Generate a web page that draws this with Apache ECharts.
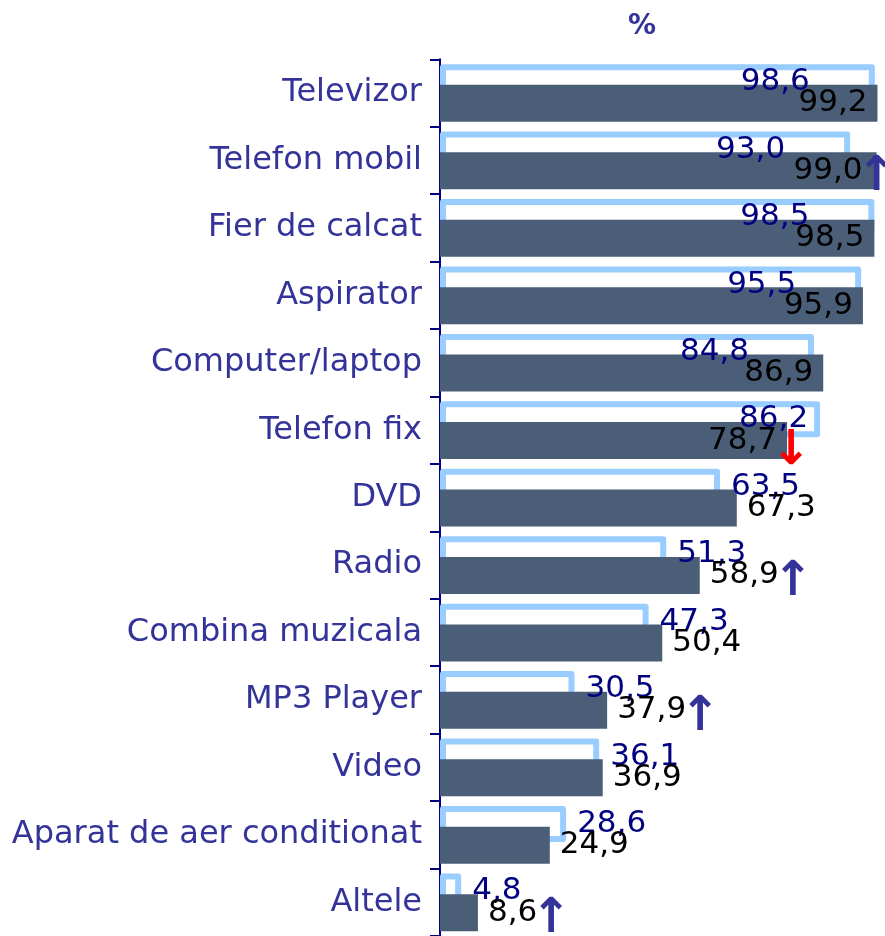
<!DOCTYPE html>
<html>
<head>
<meta charset="utf-8">
<script src="https://cdn.jsdelivr.net/npm/echarts@6/dist/echarts.min.js"></script>
<style>
  html, body { margin: 0; padding: 0; background: #fff; }
  #chart { width: 885px; height: 936px; }
</style>
</head>
<body>
<div id="chart"></div>
<script>
// categorii, de sus in jos
const categories = ['Televizor', 'Telefon mobil', 'Fier de calcat', 'Aspirator', 'Computer/laptop',
  'Telefon fix', 'DVD', 'Radio', 'Combina muzicala', 'MP3 Player', 'Video',
  'Aparat de aer conditionat', 'Altele']
// anul anterior (bara conturata)
const prevValues = [98.6, 93.0, 98.5, 95.5, 84.8, 86.2, 63.5, 51.3, 47.3, 30.5, 36.1, 28.6, 4.8]
// anul curent (bara plina)
const curValues = [99.2, 99.0, 98.5, 95.9, 86.9, 78.7, 67.3, 58.9, 50.4, 37.9, 36.9, 24.9, 8.6]
// sageti de tendinta
const trends = ['', 'up', '', '', '', 'down', '', 'up', '', 'up', '', '', 'up']

const FONT = 'DejaVu Sans'
const fmt = v => v.toFixed(1).replace('.', ',')

const chart = echarts.init(document.getElementById('chart'))

// etichete bara veche: la dreapta, sau in interior cand nu incap
const prevData = prevValues.map((v, i) => {
  const item = { value: v }
  if (v >= 80) {
    item.label = {
      position: 'insideRight',
      distance: v > curValues[i] + 3 ? 12 : 65
    }
  }
  return item
})

const curData = curValues.map((v, i) => {
  let label
  if (v >= 75) {
    // sageata iese peste capatul barei
    let d = 10
    if (trends[i] === 'up') d = -14
    if (trends[i] === 'down') d = -18
    label = { position: 'insideRight', distance: d }
  } else {
    label = { position: 'right', distance: 10 }
  }
  return { value: v, label }
})

const arrowStyle = {
  fontFamily: FONT,
  fontSize: 48,
  fontWeight: 'bold',
  width: 28,
  align: 'center'
}

const option = {
  animation: false,
  title: {
    text: '%',
    left: 623,
    top: 8,
    textStyle: { fontFamily: FONT, fontSize: 28, fontWeight: 'bold', color: '#333399' }
  },
  grid: { left: 440, right: 4, top: 59.3, bottom: -2 },
  xAxis: {
    type: 'value',
    min: 0,
    max: 100,
    show: false
  },
  yAxis: {
    type: 'category',
    data: categories,
    inverse: true,
    axisLine: { lineStyle: { color: '#000080', width: 2 } },
    axisTick: { show: true, inside: false, length: 10, lineStyle: { color: '#000080', width: 2 } },
    axisLabel: { margin: 18, fontFamily: FONT, fontSize: 32, color: '#333399' },
    splitLine: { show: false }
  },
  series: [
    {
      name: 'prev',
      type: 'bar',
      data: prevData,
      barWidth: 36,
      barGap: '-42.5%',
      itemStyle: { color: '#ffffff', borderColor: '#99ccff', borderWidth: 6, borderJoin: 'round' },
      label: {
        show: true,
        position: 'right',
        distance: 11,
        fontFamily: FONT,
        fontSize: 31,
        color: '#000080',
        formatter: p => fmt(p.value)
      }
    },
    {
      name: 'cur',
      type: 'bar',
      data: curData,
      barWidth: 37,
      barGap: '-42.5%',
      itemStyle: { color: '#4a5e78' },
      label: {
        show: true,
        fontFamily: FONT,
        fontSize: 31,
        color: '#000000',
        formatter: p => {
          const t = trends[p.dataIndex]
          let s = '{v|' + fmt(p.value) + '}'
          if (t === 'up') s += '{up|↑}'
          if (t === 'down') s += '{down|↓}'
          return s
        },
        rich: {
          v: { fontFamily: FONT, fontSize: 31, color: '#000000', align: 'center' },
          up: Object.assign({ color: '#333399', padding: [14, 0, 0, 0] }, arrowStyle),
          down: Object.assign({ color: '#ff0000', padding: [22, 0, 0, 0] }, arrowStyle)
        }
      }
    }
  ]
}

chart.setOption(option)
</script>
</body>
</html>
